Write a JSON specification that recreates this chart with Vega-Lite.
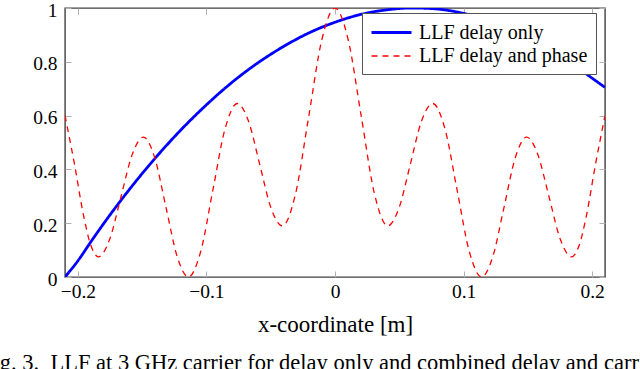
{
  "$schema": "https://vega.github.io/schema/vega-lite/v6.json",
  "width": 540,
  "height": 269,
  "autosize": {"type": "none"},
  "padding": {"left": 65, "top": 8, "right": 35, "bottom": 92},
  "background": "white",
  "title": {
    "text": "Fig. 3.\u2002LLF at 3 GHz carrier for delay only and combined delay and carrier phase.",
    "orient": "bottom",
    "anchor": "start",
    "frame": "group",
    "font": "'Liberation Serif', 'Times New Roman', serif",
    "fontSize": 22.5,
    "fontWeight": "normal",
    "color": "black",
    "dx": -84,
    "offset": 15
  },
  "datasets": {
    "curves": [
      {"x": -0.21, "y": 0.0, "s": "LLF delay only"},
      {"x": -0.2, "y": 0.06, "s": "LLF delay only"},
      {"x": -0.19, "y": 0.13, "s": "LLF delay only"},
      {"x": -0.18, "y": 0.198, "s": "LLF delay only"},
      {"x": -0.16, "y": 0.325, "s": "LLF delay only"},
      {"x": -0.14, "y": 0.441, "s": "LLF delay only"},
      {"x": -0.12, "y": 0.546, "s": "LLF delay only"},
      {"x": -0.1, "y": 0.64, "s": "LLF delay only"},
      {"x": -0.08, "y": 0.724, "s": "LLF delay only"},
      {"x": -0.06, "y": 0.796, "s": "LLF delay only"},
      {"x": -0.04, "y": 0.857, "s": "LLF delay only"},
      {"x": -0.02, "y": 0.908, "s": "LLF delay only"},
      {"x": 0.0, "y": 0.947, "s": "LLF delay only"},
      {"x": 0.02, "y": 0.976, "s": "LLF delay only"},
      {"x": 0.04, "y": 0.993, "s": "LLF delay only"},
      {"x": 0.06, "y": 1.0, "s": "LLF delay only"},
      {"x": 0.08, "y": 0.996, "s": "LLF delay only"},
      {"x": 0.1, "y": 0.98, "s": "LLF delay only"},
      {"x": 0.12, "y": 0.954, "s": "LLF delay only"},
      {"x": 0.14, "y": 0.917, "s": "LLF delay only"},
      {"x": 0.16, "y": 0.868, "s": "LLF delay only"},
      {"x": 0.18, "y": 0.809, "s": "LLF delay only"},
      {"x": 0.2, "y": 0.739, "s": "LLF delay only"},
      {"x": 0.21, "y": 0.705, "s": "LLF delay only"},
      {"x": -0.21, "y": 0.6, "s": "LLF delay and phase"},
      {"x": -0.2025, "y": 0.416, "s": "LLF delay and phase"},
      {"x": -0.1955, "y": 0.227, "s": "LLF delay and phase"},
      {"x": -0.19, "y": 0.119, "s": "LLF delay and phase"},
      {"x": -0.184, "y": 0.075, "s": "LLF delay and phase"},
      {"x": -0.17525, "y": 0.14, "s": "LLF delay and phase"},
      {"x": -0.1665, "y": 0.2975, "s": "LLF delay and phase"},
      {"x": -0.15775, "y": 0.455, "s": "LLF delay and phase"},
      {"x": -0.149, "y": 0.52, "s": "LLF delay and phase"},
      {"x": -0.14025, "y": 0.444, "s": "LLF delay and phase"},
      {"x": -0.1315, "y": 0.26, "s": "LLF delay and phase"},
      {"x": -0.12275, "y": 0.076, "s": "LLF delay and phase"},
      {"x": -0.114, "y": 0.0, "s": "LLF delay and phase"},
      {"x": -0.1045, "y": 0.094, "s": "LLF delay and phase"},
      {"x": -0.095, "y": 0.3225, "s": "LLF delay and phase"},
      {"x": -0.0855, "y": 0.551, "s": "LLF delay and phase"},
      {"x": -0.076, "y": 0.645, "s": "LLF delay and phase"},
      {"x": -0.06725, "y": 0.579, "s": "LLF delay and phase"},
      {"x": -0.0585, "y": 0.4175, "s": "LLF delay and phase"},
      {"x": -0.04975, "y": 0.256, "s": "LLF delay and phase"},
      {"x": -0.041, "y": 0.19, "s": "LLF delay and phase"},
      {"x": -0.03075, "y": 0.308, "s": "LLF delay and phase"},
      {"x": -0.0205, "y": 0.595, "s": "LLF delay and phase"},
      {"x": -0.01025, "y": 0.882, "s": "LLF delay and phase"},
      {"x": 0.0, "y": 1.0, "s": "LLF delay and phase"},
      {"x": 0.01025, "y": 0.882, "s": "LLF delay and phase"},
      {"x": 0.0205, "y": 0.595, "s": "LLF delay and phase"},
      {"x": 0.03075, "y": 0.308, "s": "LLF delay and phase"},
      {"x": 0.041, "y": 0.19, "s": "LLF delay and phase"},
      {"x": 0.04975, "y": 0.256, "s": "LLF delay and phase"},
      {"x": 0.0585, "y": 0.4175, "s": "LLF delay and phase"},
      {"x": 0.06725, "y": 0.579, "s": "LLF delay and phase"},
      {"x": 0.076, "y": 0.645, "s": "LLF delay and phase"},
      {"x": 0.0855, "y": 0.551, "s": "LLF delay and phase"},
      {"x": 0.095, "y": 0.3225, "s": "LLF delay and phase"},
      {"x": 0.1045, "y": 0.094, "s": "LLF delay and phase"},
      {"x": 0.114, "y": 0.0, "s": "LLF delay and phase"},
      {"x": 0.12275, "y": 0.076, "s": "LLF delay and phase"},
      {"x": 0.1315, "y": 0.26, "s": "LLF delay and phase"},
      {"x": 0.14025, "y": 0.444, "s": "LLF delay and phase"},
      {"x": 0.149, "y": 0.52, "s": "LLF delay and phase"},
      {"x": 0.15775, "y": 0.455, "s": "LLF delay and phase"},
      {"x": 0.1665, "y": 0.2975, "s": "LLF delay and phase"},
      {"x": 0.17525, "y": 0.14, "s": "LLF delay and phase"},
      {"x": 0.184, "y": 0.075, "s": "LLF delay and phase"},
      {"x": 0.19, "y": 0.119, "s": "LLF delay and phase"},
      {"x": 0.1955, "y": 0.227, "s": "LLF delay and phase"},
      {"x": 0.2025, "y": 0.416, "s": "LLF delay and phase"},
      {"x": 0.21, "y": 0.6, "s": "LLF delay and phase"}
    ]
  },
  "data": {"name": "curves"},
  "layer": [
    {
      "mark": {"type": "line", "strokeOpacity": 0},
      "encoding": {
        "x": {
          "field": "x", "type": "quantitative",
          "scale": {"domain": [-0.21, 0.21], "nice": false, "zero": false},
          "axis": {"orient": "top", "values": [-0.2, -0.1, 0, 0.1, 0.2], "labels": false, "title": null}
        },
        "y": {
          "field": "y", "type": "quantitative",
          "scale": {"domain": [0, 1], "nice": false},
          "axis": {"orient": "right", "values": [0, 0.2, 0.4, 0.6, 0.8, 1], "labels": false, "title": null}
        },
        "detail": {"field": "s"}
      }
    },
    {
      "mark": {"type": "line", "interpolate": "monotone", "clip": true},
      "encoding": {
        "x": {
          "field": "x", "type": "quantitative",
          "axis": {"orient": "bottom", "values": [-0.2, -0.1, 0, 0.1, 0.2], "format": "~g", "title": "x-coordinate [m]", "labelPadding": 11, "titlePadding": 13}
        },
        "y": {
          "field": "y", "type": "quantitative",
          "axis": {"orient": "left", "values": [0, 0.2, 0.4, 0.6, 0.8, 1], "format": "~g", "title": null, "labelPadding": 14, "labelOffset": 2}
        },
        "color": {
          "field": "s", "type": "nominal",
          "scale": {"domain": ["LLF delay only", "LLF delay and phase"], "range": ["#0000ff", "#ff0000"]},
          "legend": {"title": null}
        },
        "strokeDash": {
          "field": "s", "type": "nominal",
          "scale": {"domain": ["LLF delay only", "LLF delay and phase"], "range": [[1, 0], [6, 5]]},
          "legend": {"title": null}
        },
        "strokeWidth": {
          "field": "s", "type": "nominal",
          "scale": {"domain": ["LLF delay only", "LLF delay and phase"], "range": [2.8, 1.3]},
          "legend": {"title": null}
        }
      }
    }
  ],
  "resolve": {"axis": {"x": "independent", "y": "independent"}},
  "config": {
    "view": {"stroke": "#404040", "strokeWidth": 1.4},
    "axis": {
      "domain": false,
      "grid": false,
      "ticks": true,
      "tickColor": "#b0b0b0",
      "tickSize": -6,
      "tickWidth": 1,
      "labelFont": "'Liberation Serif', 'Times New Roman', serif",
      "labelFontSize": 19.5,
      "labelColor": "black",
      "titleFont": "'Liberation Serif', 'Times New Roman', serif",
      "titleFontSize": 23,
      "titleFontWeight": "normal",
      "titleColor": "black"
    },
    "legend": {
      "orient": "none",
      "legendX": 297,
      "legendY": 5,
      "fillColor": "white",
      "strokeColor": "#555555",
      "padding": 8,
      "labelFont": "'Liberation Serif', 'Times New Roman', serif",
      "labelFontSize": 20,
      "labelColor": "black",
      "labelLimit": 400,
      "labelOffset": 16,
      "symbolType": "M-2,0H2",
      "symbolSize": 400,
      "symbolOffset": 10,
      "rowPadding": 2
    }
  }
}
